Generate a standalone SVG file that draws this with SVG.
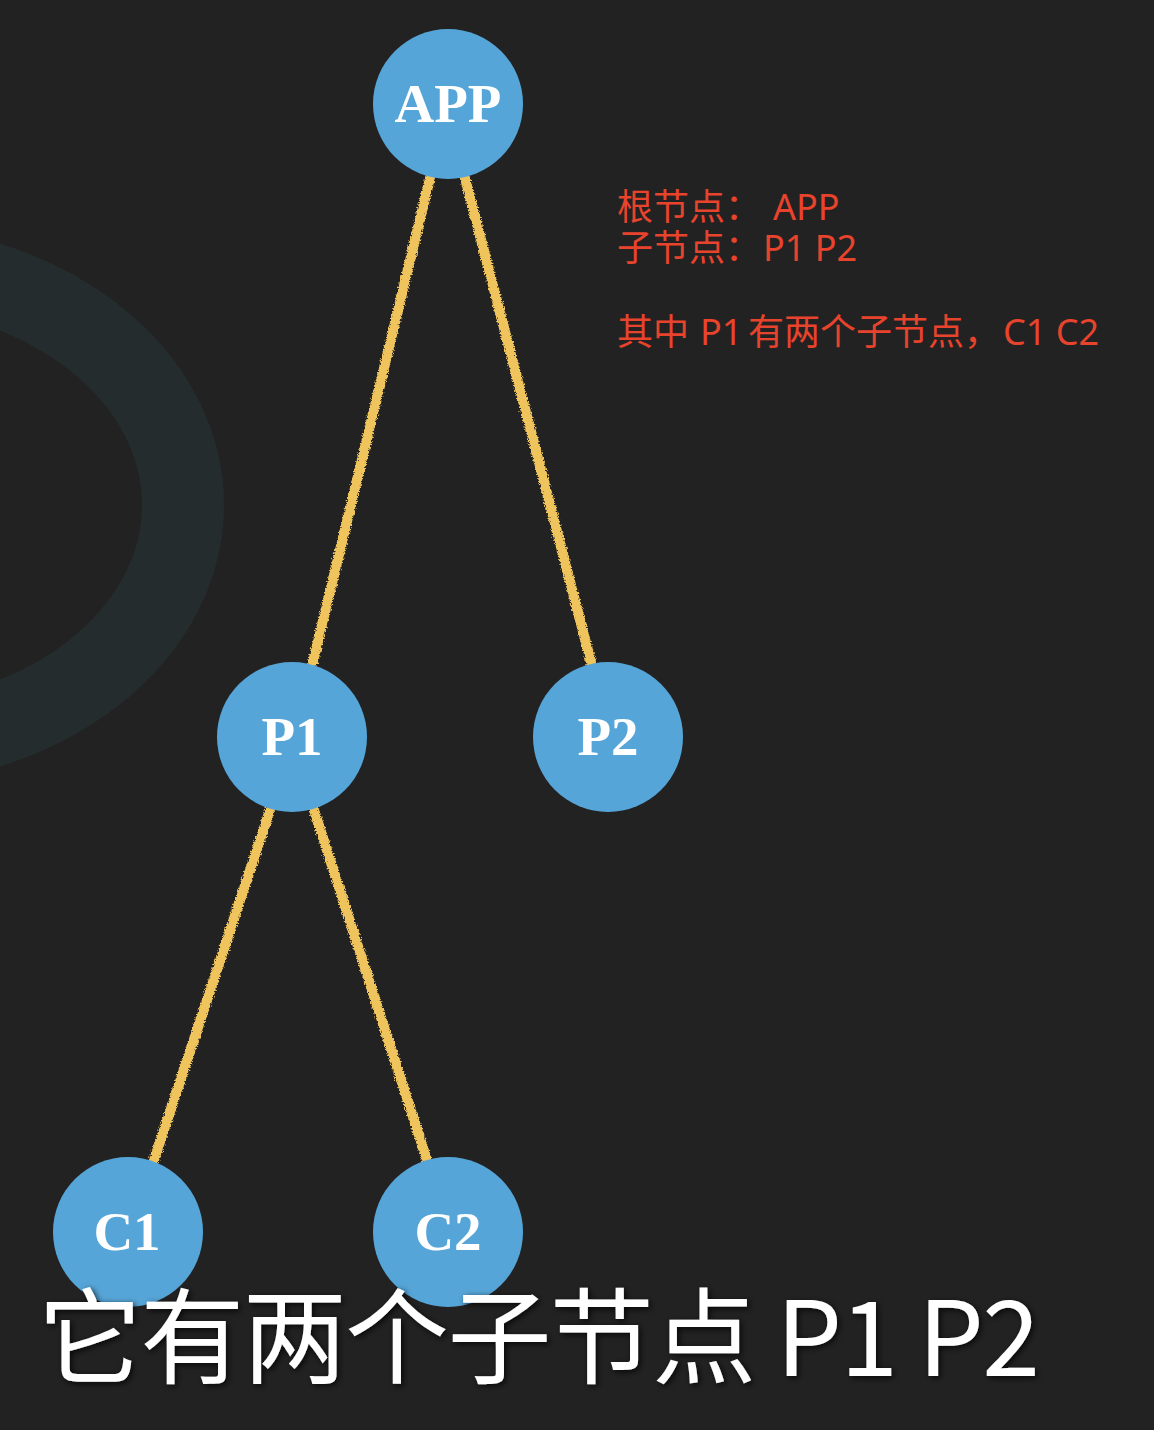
<svg xmlns="http://www.w3.org/2000/svg" width="1154" height="1430" viewBox="0 0 1154 1430">
<defs>
<filter id="rough" x="-20%" y="-5%" width="140%" height="110%">
<feTurbulence type="fractalNoise" baseFrequency="0.7" numOctaves="2" seed="3" result="n"/>
<feDisplacementMap in="SourceGraphic" in2="n" scale="5" xChannelSelector="R" yChannelSelector="G"/>
</filter>
<filter id="shadow" x="-5%" y="-20%" width="110%" height="140%">
<feGaussianBlur in="SourceAlpha" stdDeviation="3" result="b"/>
<feOffset in="b" dx="2" dy="2" result="o"/>
<feFlood flood-color="#000" flood-opacity="0.8"/>
<feComposite in2="o" operator="in" result="s"/>
<feMerge><feMergeNode in="s"/><feMergeNode in="SourceGraphic"/></feMerge>
</filter>
</defs>
<style>
.node circle{fill:#56a5d8;}
.node text{font-family:"Liberation Serif","DejaVu Serif",serif;font-weight:bold;font-size:55px;fill:#ffffff;text-anchor:middle;}
.edge{stroke:#f0c45c;stroke-width:10;stroke-linecap:round;fill:none;}
.note{font-family:"Noto Sans","Noto Sans CJK SC",sans-serif;font-size:36px;fill:#e8432c;}
.sub{font-family:"Noto Sans CJK SC","Noto Sans",sans-serif;font-size:104px;fill:#ffffff;}
</style>
<rect width="1154" height="1430" fill="#222222"/>
<ellipse cx="-130" cy="505" rx="313" ry="240" fill="none" stroke="#252c2e" stroke-width="82"/>
<g id="connectors" filter="url(#rough)">
<line class="edge" x1="430" y1="178" x2="313" y2="662"/>
<line class="edge" x1="465" y1="178" x2="591" y2="662"/>
<line class="edge" x1="270" y1="810" x2="154" y2="1160"/>
<line class="edge" x1="314" y1="810" x2="427" y2="1160"/>
</g>
<g id="node-app" class="node"><circle cx="448" cy="104" r="75"/><text x="448" y="122">APP</text></g>
<g id="node-p1" class="node"><circle cx="292" cy="737" r="75"/><text x="292" y="755">P1</text></g>
<g id="node-p2" class="node"><circle cx="608" cy="737" r="75"/><text x="608" y="755">P2</text></g>
<g id="node-c1" class="node"><circle cx="128" cy="1232" r="75"/><text x="127" y="1250">C1</text></g>
<g id="node-c2" class="node"><circle cx="448" cy="1232" r="75"/><text x="448" y="1250">C2</text></g>
<g id="notes">
<text class="note" y="220"><tspan x="617">根节点：</tspan><tspan x="773">APP</tspan></text>
<text class="note" y="261"><tspan x="617">子节点：</tspan><tspan x="763">P1 P2</tspan></text>
<text class="note" y="345"><tspan x="617">其中</tspan><tspan x="700">P1</tspan><tspan x="748">有两个子节点，</tspan><tspan x="1003">C1 C2</tspan></text>
</g>
<text class="sub" x="38" y="1376" textLength="1002" lengthAdjust="spacing" filter="url(#shadow)">它有两个子节点 P1 P2</text>
</svg>
